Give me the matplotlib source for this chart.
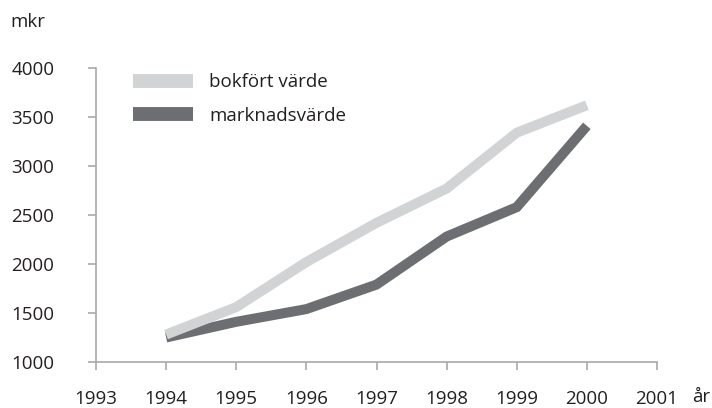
import matplotlib.pyplot as plt

plt.rcParams['font.family'] = ['Open Sans', 'DejaVu Sans']

years = [1994, 1995, 1996, 1997, 1998, 1999, 2000]
bokfort = [1280, 1560, 2020, 2420, 2770, 3340, 3620]
marknad = [1250, 1410, 1540, 1790, 2280, 2580, 3410]
xticks = list(range(1993, 2002))
yticks = [1000, 1500, 2000, 2500, 3000, 3500, 4000]

axis_col = '#a7a9ac'
text_col = '#231f20'
fs = 13.5

fig = plt.figure(figsize=(7.12, 4.08), dpi=100)
ax = fig.add_axes([96 / 712, 46 / 408, 561 / 712, 294 / 408])

ax.plot(years, marknad, color='#6d6e71', lw=7.2, solid_capstyle='butt',
        solid_joinstyle='miter', label='marknadsvärde', zorder=2)
ax.plot(years, bokfort, color='#d1d3d4', lw=7.2, solid_capstyle='butt',
        solid_joinstyle='miter', label='bokfört värde', zorder=3)

ax.set_xlim(1993, 2001)
ax.set_ylim(1000, 4000)
ax.set_xticks(xticks)
ax.set_yticks(yticks)

for s in ['top', 'right']:
    ax.spines[s].set_visible(False)
for s in ['left', 'bottom']:
    ax.spines[s].set_color(axis_col)
    ax.spines[s].set_linewidth(1.2)
ax.tick_params(colors=axis_col, width=1.2, length=6, labelcolor=text_col,
               labelsize=fs)
ax.tick_params(axis='x', pad=14)
ax.tick_params(axis='y', pad=24)

handles, labels = ax.get_legend_handles_labels()
leg = ax.legend(handles[::-1], labels[::-1], loc='upper left',
                bbox_to_anchor=(0.035, 1.04), frameon=False, fontsize=fs,
                handlelength=3.2, handletextpad=0.9, labelspacing=0.85,
                labelcolor=text_col)
for h in leg.get_lines():
    h.set_linewidth(10)

fig.text(10 / 712, 1 - 22 / 408, 'mkr', fontsize=fs, color=text_col,
         va='center')
fig.text(692 / 712, 1 - 397 / 408, 'år', fontsize=fs, color=text_col,
         va='center')

fig.savefig('out.png', dpi=100)
